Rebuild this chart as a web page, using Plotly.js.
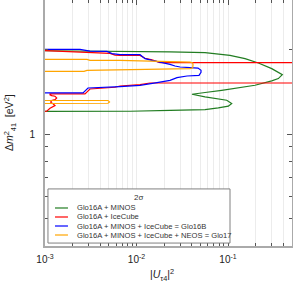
<!DOCTYPE html>
<html><head><meta charset="utf-8">
<script src="https://cdn.plot.ly/plotly-3.0.1.min.js"></script>
<style>html,body{margin:0;padding:0;background:#fff}#chart{width:293px;height:284px}</style>
</head><body><div id="chart"></div>
<script>
// ---- data ----
const seriesNames = ['Glo16A + MINOS', 'Glo16A + IceCube', 'Glo16A + MINOS + IceCube = Glo16B', 'Glo16A + MINOS + IceCube + NEOS = Glo17'];
const legendTitle = '2σ';

const glo16aMinosX = [0.001, 0.0085, 0.0232, 0.0561, 0.105, 0.1534, 0.2144, 0.3003, 0.370, 0.392, 0.3545, 0.3003, 0.197, 0.1296, 0.0853, 0.0561, 0.0404, 0.0561, 0.0777, 0.0968, 0.1097, 0.1008, 0.0783, 0.0561, 0.0232, 0.0085, 0.001];
const glo16aMinosY = [1.98, 1.975, 1.962, 1.949, 1.906, 1.855, 1.790, 1.710, 1.650, 1.628, 1.576, 1.546, 1.492, 1.459, 1.432, 1.406, 1.386, 1.356, 1.339, 1.320, 1.285, 1.257, 1.240, 1.223, 1.214, 1.206, 1.204];

const glo16aIceX = [0.001, 0.003103, 0.005133, 0.005821, 0.0066, 0.01092, 0.01239, 0.01477, 0.01806, 0.6, 0.6, 0.01404, 0.01092, 0.0066, 0.005821, 0.003103, 0.002736, 0.001134, 0.001134, 0.001184, 0.001286, 0.001342, 0.001286, 0.001184, 0.001154, 0.001232, 0.001286, 0.001134, 0.001044, 0.001];
const glo16aIceY = [1.981, 1.958, 1.938, 1.911, 1.906, 1.906, 1.862, 1.836, 1.796, 1.796, 1.52, 1.52, 1.50, 1.483, 1.468, 1.447, 1.390, 1.390, 1.379, 1.371, 1.364, 1.345, 1.327, 1.317, 1.299, 1.280, 1.264, 1.236, 1.206, 1.204];

const glo16bX = [0.001, 0.002413, 0.003103, 0.00476, 0.005398, 0.0066, 0.01092, 0.01239, 0.01477, 0.01806, 0.02323, 0.02635, 0.02988, 0.03842, 0.047, 0.05068, 0.05068, 0.0482, 0.03564, 0.02771, 0.02323, 0.01675, 0.01092, 0.0066, 0.00476, 0.002951, 0.002603, 0.001];
const glo16bY = [2.001, 2.001, 1.974, 1.969, 1.933, 1.917, 1.917, 1.855, 1.829, 1.805, 1.771, 1.747, 1.733, 1.724, 1.718, 1.686, 1.660, 1.619, 1.610, 1.589, 1.554, 1.525, 1.492, 1.476, 1.471, 1.459, 1.401, 1.401];

const glo17X = [0.001, 0.002877, 0.003103, 0.0066, 0.03842, 0.0411, 0.04145, 0.0411, 0.03842, 0.0066, 0.002877, 0.002668, 0.001, null, 0.001, 0.004881, 0.005069, 0.004881, 0.001];
const glo17Y = [1.845, 1.845, 1.829, 1.829, 1.805, 1.79, 1.764, 1.722, 1.710, 1.700, 1.686, 1.673, 1.673, null, 1.317, 1.317, 1.302, 1.288, 1.285];

const xMajor = [0.001, 0.01, 0.1];
const xMajorText = ['10<sup>-3</sup>', '10<sup>-2</sup>', '10<sup>-1</sup>'];
const xMinor = [0.002,0.003,0.004,0.005,0.006,0.007,0.008,0.009,0.02,0.03,0.04,0.05,0.06,0.07,0.08,0.09,0.2,0.3,0.4,0.5];
const yMajor = [1];
const yMajorText = ['1'];
const yMinor = [0.4,0.5,0.6,0.7,0.8,0.9,2,3];

// ---- styles ----
const colors = ['rgb(34,125,34)', '#ff0000', '#0000ff', '#ffa500'];
const font = 'Liberation Sans, Arial, sans-serif';

const xs = [glo16aMinosX, glo16aIceX, glo16bX, glo17X];
const ys = [glo16aMinosY, glo16aIceY, glo16bY, glo17Y];
const traces = xs.map((x, i) => ({
  type: 'scatter', mode: 'lines', x: x, y: ys[i], name: seriesNames[i],
  line: {color: colors[i], width: 1.2}, connectgaps: false, hoverinfo: 'skip'
}));

// custom legend (paper coordinates)
const lgTop = 0.1545, lgStep = 0.0366;
const shapes = [{type:'rect', xref:'paper', yref:'paper', x0:0.012, x1:0.749, y0:0.012, y1:0.232,
  line:{color:'#808080', width:1}, fillcolor:'#ffffff', layer:'above'}];
const annotations = [{xref:'paper', yref:'paper', x:0.377, y:0.199, text:legendTitle, showarrow:false,
  font:{family:font, size:8, color:'#333'}, xanchor:'center', yanchor:'middle'}];
seriesNames.forEach((n, i) => {
  const yy = lgTop - i * lgStep;
  shapes.push({type:'line', xref:'paper', yref:'paper', x0:0.0405, x1:0.093, y0:yy, y1:yy,
    line:{color:colors[i], width:1.2}, layer:'above'});
  annotations.push({xref:'paper', yref:'paper', x:0.1215, y:yy, text:n, showarrow:false,
    font:{family:font, size:7.6, color:'#333'}, xanchor:'left', yanchor:'middle'});
});
annotations.push({xref:'paper', yref:'paper', x:-0.1417, y:0.5, textangle:-90, showarrow:false,
  text:'Δ<i>m</i><sup>2</sup><sub>41</sub>  [eV<sup>2</sup>]', font:{family:font, size:10.5, color:'#222'},
  xanchor:'center', yanchor:'middle'});
annotations.push({xref:'paper', yref:'paper', x:0.474, y:-0.117, showarrow:false,
  text:'|<i>U</i><sub>τ4</sub>|<sup>2</sup>', font:{family:font, size:10.5, color:'#222'},
  xanchor:'center', yanchor:'middle'});

const layout = {
  width: 293, height: 284,
  margin: {l:45, r:1, t:0, b:38},
  paper_bgcolor:'#fff', plot_bgcolor:'#fff',
  showlegend:false,
  xaxis: {
    type:'log', range:[-3, Math.log10(0.5)], tickvals:xMajor, ticktext:xMajorText,
    ticks:'inside', ticklen:5, tickwidth:1, tickcolor:'#555',
    showline:true, linecolor:'#aaa', linewidth:2, mirror:'ticks',
    showgrid:true, gridcolor:'#ececec', gridwidth:1, zeroline:false,
    tickfont:{family:font, size:10, color:'#222'}, ticklabelstandoff:3,
    minor:{tickvals:xMinor, ticks:'inside', ticklen:3, tickcolor:'#555', showgrid:true, gridcolor:'#ececec', gridwidth:1}
  },
  yaxis: {
    type:'log', range:[Math.log10(0.4), Math.log10(3)], tickvals:yMajor, ticktext:yMajorText,
    ticks:'inside', ticklen:5, tickwidth:1, tickcolor:'#555',
    showline:true, linecolor:'#aaa', linewidth:2, mirror:'ticks',
    showgrid:false, zeroline:false,
    tickfont:{family:font, size:10, color:'#222'}, ticklabelstandoff:6,
    minor:{tickvals:yMinor, ticks:'inside', ticklen:3, tickcolor:'#555', showgrid:false}
  },
  shapes: shapes,
  annotations: annotations
};

Plotly.newPlot('chart', traces, layout, {displayModeBar:false, staticPlot:true});
</script></body></html>
